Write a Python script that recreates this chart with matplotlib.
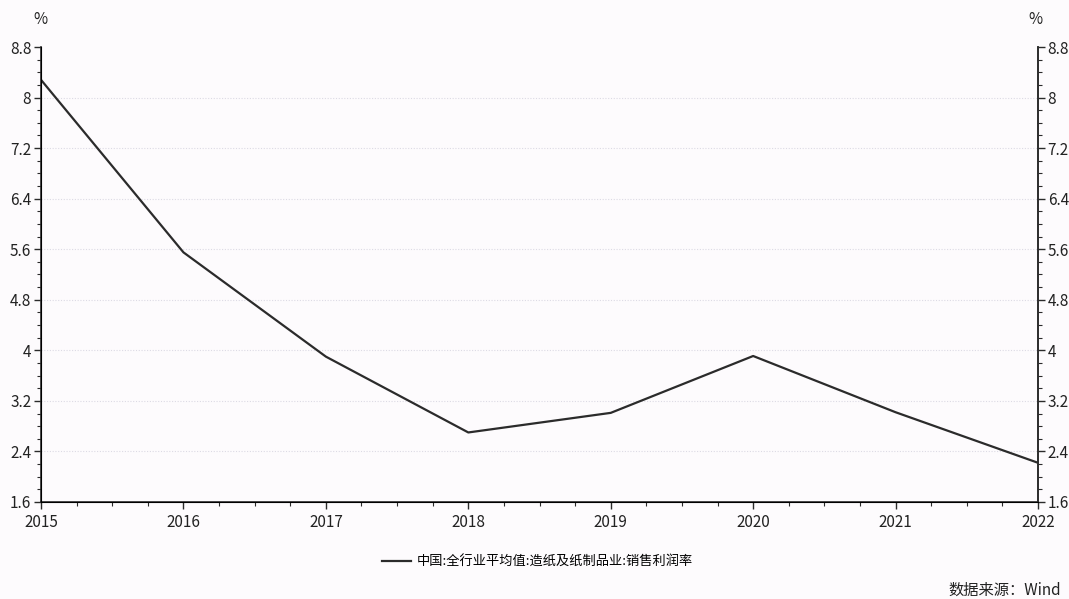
"""
Paper industry profit margin, 2015-2022, with mirrored left/right % axes.
Saves out.png.
"""

import matplotlib.pyplot as plt
from matplotlib.ticker import MultipleLocator

plt.rcParams['font.family'] = ['Noto Sans CJK SC', 'DejaVu Sans']

years = [2015, 2016, 2017, 2018, 2019, 2020, 2021, 2022]
margin = [8.28, 5.55, 3.90, 2.70, 3.01, 3.91, 3.02, 2.22]
y_ticks = [1.6, 2.4, 3.2, 4, 4.8, 5.6, 6.4, 7.2, 8, 8.8]
y_labels = ["1.6", "2.4", "3.2", "4", "4.8", "5.6", "6.4", "7.2", "8", "8.8"]
series_name = "中国:全行业平均值:造纸及纸制品业:销售利润率"
source_text = "数据来源：Wind"

bg = "#fdfbfd"
ink = "#2b2b2b"

fig = plt.figure(figsize=(10.69, 5.99), dpi=100, facecolor=bg)
ax = fig.add_axes([0.0384, 0.162, 0.9326, 0.7595], facecolor=bg)

line, = ax.plot(years, margin, color=ink, lw=1.6, solid_joinstyle="round")

ax.set_xlim(years[0], years[-1])
ax.set_ylim(y_ticks[0], y_ticks[-1])
ax.set_xticks(years)
ax.set_xticklabels([str(y) for y in years])
ax.xaxis.set_minor_locator(MultipleLocator(0.25))
ax.set_yticks(y_ticks)
ax.set_yticklabels(y_labels)
ax.yaxis.set_minor_locator(MultipleLocator(0.2))

# faint dotted grid at the inner major levels
for v in y_ticks[1:-1]:
    ax.axhline(v, color="#dcdae4", lw=0.8, ls=(0, (1, 1.5)), zorder=0)

ax.spines["top"].set_visible(False)
for side in ("left", "bottom", "right"):
    ax.spines[side].set_color(ink)
    ax.spines[side].set_linewidth(1.2)

ax.tick_params(axis="both", which="major", direction="out", length=5,
               width=1, color=ink, labelsize=11, labelcolor="#222222", pad=2)
ax.tick_params(axis="x", which="major", pad=4)
ax.tick_params(axis="both", which="minor", direction="out", length=3,
               width=0.8, color=ink)

# mirrored scale on the right
ax2 = ax.twinx()
ax2.set_ylim(ax.get_ylim())
ax2.set_yticks(y_ticks)
ax2.set_yticklabels(y_labels)
ax2.yaxis.set_minor_locator(MultipleLocator(0.2))
ax2.spines["top"].set_visible(False)
ax2.spines["right"].set_color(ink)
ax2.spines["right"].set_linewidth(1.2)
ax2.tick_params(axis="y", which="major", direction="out", length=5,
                width=1, color=ink, labelsize=11, labelcolor="#222222", pad=2)
ax2.tick_params(axis="y", which="minor", direction="out", length=3,
                width=0.8, color=ink)

fig.text(0.0374, 0.968, "%", ha="center", va="center", fontsize=11, color="#222222")
fig.text(0.969, 0.968, "%", ha="center", va="center", fontsize=11, color="#222222")

fig.legend([line], [series_name], loc="center", bbox_to_anchor=(0.503, 0.062),
           frameon=False, fontsize=9.5, handlelength=2.2, handletextpad=0.4)

fig.text(0.993, 0.0, source_text, ha="right", va="bottom", fontsize=11,
         color="#222222")

fig.savefig("out.png", dpi=100, facecolor=bg)
